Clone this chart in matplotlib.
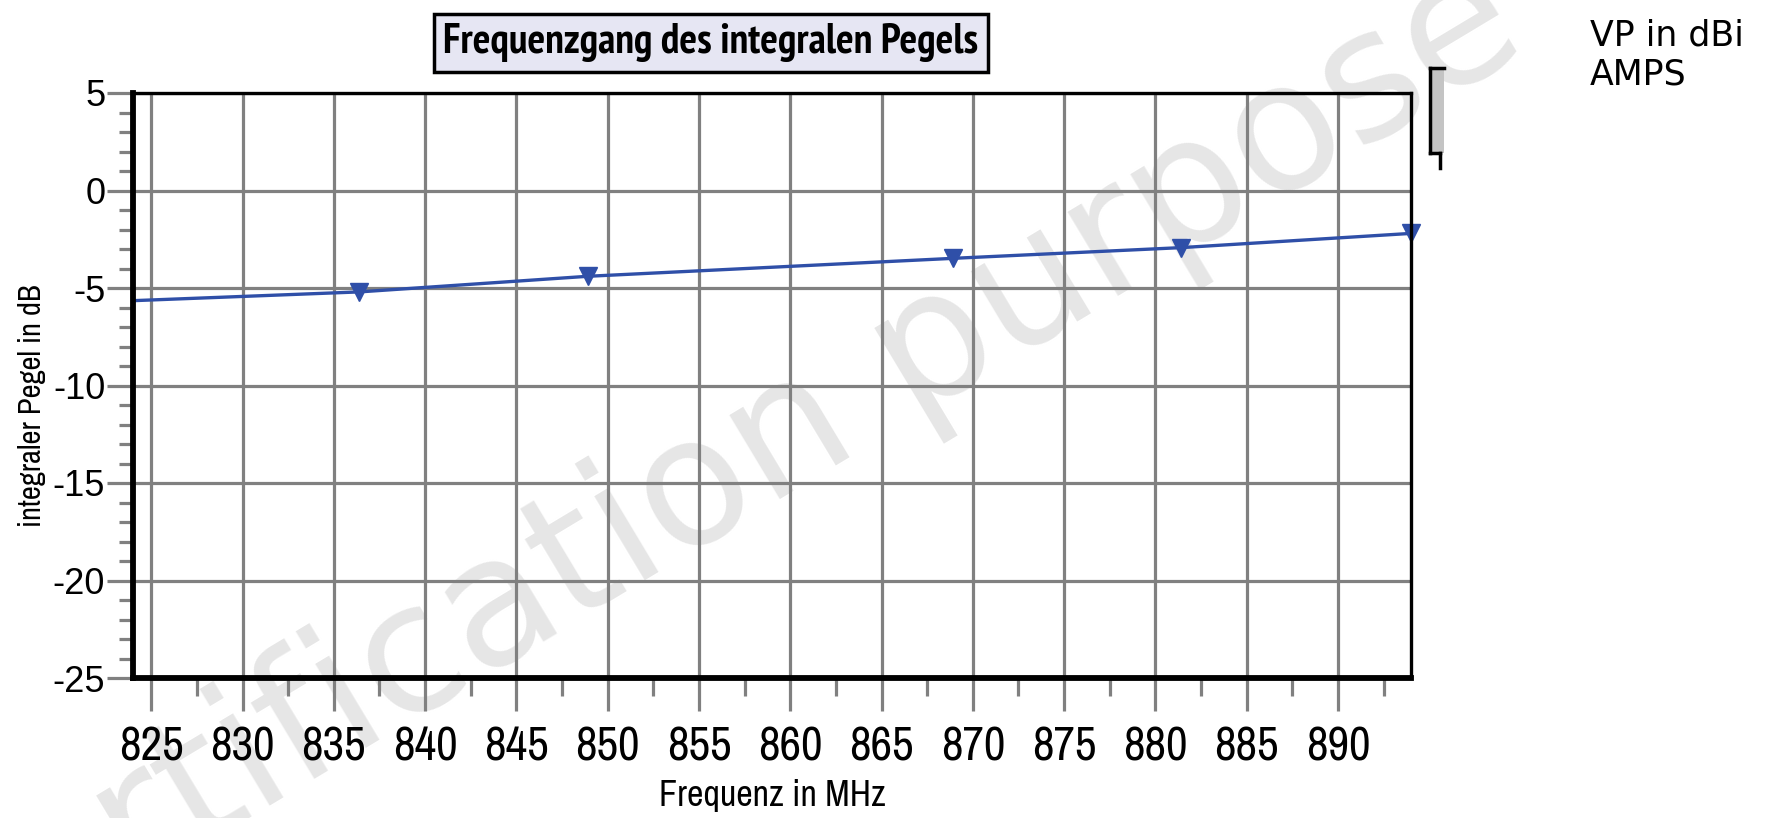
import matplotlib
matplotlib.use("Agg")
import matplotlib.pyplot as plt
import matplotlib.font_manager as fm
from matplotlib.patches import Rectangle
from matplotlib.lines import Line2D
from matplotlib.ticker import MultipleLocator

# data
freq_mhz = [824, 836.4, 848.9, 868.9, 881.4, 894]
level_db = [-5.65, -5.2, -4.4, -3.48, -2.93, -2.2]
marker_idx = [1, 2, 3, 4, 5]
x_ticks = list(range(825, 891, 5))
y_ticks = list(range(-25, 6, 5))
legend_lines = ["VP in dBi", "AMPS"]


def _is_bold(f):
    w = f.weight
    if isinstance(w, str):
        w = fm.weight_dict.get(w, 400)
    return w >= 600


# look for a narrow face (Arial Narrow look-alike), prefer one that has a bold cut
narrow = [f for f in fm.fontManager.ttflist
          if "Narrow" in f.name or "Condensed" in f.name]
names = sorted({f.name for f in narrow}, key=lambda n: ("Narrow" not in n, n))
bold_names = [n for n in names if any(_is_bold(f) for f in narrow if f.name == n)]
NARROW = names[:1] + ["Liberation Sans", "DejaVu Sans"]
NARROW_BOLD = (bold_names or names)[:1] + ["Liberation Sans", "DejaVu Sans"]
HAVE_NARROW = bool(names)

W, H = 1773, 818
fig = plt.figure(figsize=(W / 100, H / 100), dpi=100)

# watermark behind everything
fig.text(0.405, 0.415, "certification purpose", fontsize=128, color="#e6e6e6",
         rotation=31, ha="center", va="center", family="DejaVu Sans", zorder=0)

ax = fig.add_axes([133 / W, 1 - 678 / H, (1411 - 133) / W, (678 - 93) / H])
ax.set_facecolor("none")
ax.set_zorder(1)

ax.plot(freq_mhz, level_db, color="#2f4fa8", lw=2.4, zorder=3, clip_on=False)
ax.plot([freq_mhz[i] for i in marker_idx], [level_db[i] for i in marker_idx],
        ls="none", marker="v", ms=13, color="#2f4fa8", zorder=4, clip_on=False)

ax.set_xlim(824, 894)
ax.set_ylim(-25, 5)
ax.set_xticks(x_ticks)
ax.set_yticks(y_ticks)
ax.xaxis.set_minor_locator(MultipleLocator(2.5))
ax.yaxis.set_minor_locator(MultipleLocator(1))
ax.grid(True, which="major", color="#808080", lw=2.3, zorder=1)
ax.set_axisbelow(True)

ax.tick_params(which="major", direction="out", color="#808080", width=2.3)
ax.tick_params(axis="x", which="major", length=24, pad=10)
ax.tick_params(axis="y", which="major", length=19, pad=1)
ax.tick_params(axis="x", which="minor", length=13, width=2.3, color="#808080")
ax.tick_params(axis="y", which="minor", length=10, width=2.3, color="#808080")

ax.set_xticklabels([str(t) for t in x_ticks], family=NARROW,
                   fontsize=34 if HAVE_NARROW else 25)
ax.set_yticklabels([str(t) for t in y_ticks],
                   family=["Liberation Sans", "DejaVu Sans"], fontsize=26)

for side in ("left", "bottom"):
    ax.spines[side].set_linewidth(4.2)
for side in ("top", "right"):
    ax.spines[side].set_linewidth(2.4)
for s in ax.spines.values():
    s.set_color("black")
    s.set_zorder(5)

ax.set_xlabel("Frequenz in MHz", family=NARROW,
              fontsize=26 if HAVE_NARROW else 22, labelpad=8)
ax.set_ylabel("integraler Pegel in dB", family=NARROW,
              fontsize=22 if HAVE_NARROW else 18)
ax.yaxis.set_label_coords(-0.068, 0.465)

# boxed title
fig.text((425 + 997) / 2 / W, 1 - 43 / H, "Frequenzgang des integralen Pegels",
         family=NARROW_BOLD, fontsize=30 if HAVE_NARROW else 22.5, fontweight="bold",
         ha="center", va="center",
         bbox=dict(boxstyle="square,pad=0.22", fc="#e6e6f3", ec="black", lw=2.5))

# clipped legend fragment at the right edge of the plot
fig.patches.append(Rectangle((1430 / W, 1 - 153 / H), 14 / W, 85 / H,
                             transform=fig.transFigure, fc="#c4c4c4", ec="none"))
for xs, ys in [((1430, 1430), (68, 153)), ((1430, 1444), (68, 68)),
               ((1430, 1440), (153, 153)), ((1440, 1440), (153, 168))]:
    fig.lines.append(Line2D([x / W for x in xs], [1 - y / H for y in ys],
                            transform=fig.transFigure, color="black", lw=2.5))

fig.text(1590 / W, 1 - 19 / H, "\n".join(legend_lines), fontsize=25,
         family="DejaVu Sans", ha="left", va="top", linespacing=1.15)

fig.savefig("out.png", dpi=100)
